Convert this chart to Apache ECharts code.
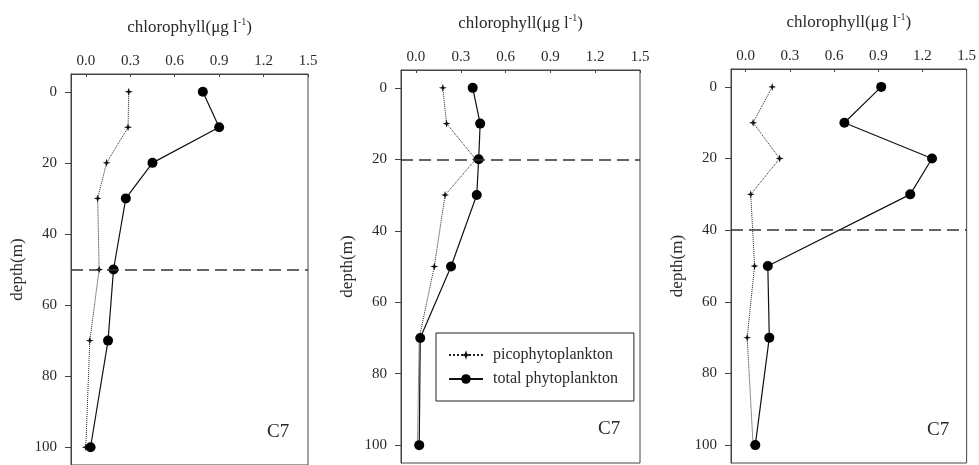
<html>
<head>
    <script src="https://cdn.jsdelivr.net/npm/echarts@6/dist/echarts.min.js"></script>
</head>
<body style="margin:0;background:#fff;">
    <div id="main" style="width: 979px;height:465px;"></div>
    <script>
        // depth profiles at station C7, three sampling occasions
        var depth = [0, 10, 20, 30, 50, 70, 100];
        var pico1 = [0.29, 0.285, 0.14, 0.08, 0.09, 0.027, 0.0];
        var total1 = [0.79, 0.9, 0.45, 0.27, 0.187, 0.15, 0.032];
        var pico2 = [0.18, 0.205, 0.40, 0.195, 0.123, 0.022, 0.01];
        var total2 = [0.38, 0.43, 0.42, 0.407, 0.235, 0.029, 0.022];
        var pico3 = [0.18, 0.05, 0.23, 0.034, 0.06, 0.01, 0.05];
        var total3 = [0.92, 0.67, 1.265, 1.117, 0.15, 0.16, 0.065];
        var mixedDepth = [50, 20, 40];
        var xTicks = [0, 0.3, 0.6, 0.9, 1.2, 1.5];
        var yTicks = [0, 20, 40, 60, 80, 100];
        var stationName = 'C7';

        var serif = '"Liberation Serif", "DejaVu Serif", serif';
        var ink = '#2a2a2a';

        var grids = [
            { left: 71, top: 74, width: 237, height: 393 },
            { left: 401, top: 70, width: 239, height: 393 },
            { left: 731, top: 69, width: 238, height: 394 }
        ];
        var tags = [
            { left: 267, top: 423 },
            { left: 598, top: 420 },
            { left: 927, top: 421 }
        ];

        function pairs(xs) {
            var out = [];
            for (var i = 0; i < xs.length; i++) out.push([xs[i], depth[i]]);
            return out;
        }

        var picoSymbol = 'path://M0,-5 L1.2,-1.2 L5,0 L1.2,1.2 L0,5 L-1.2,1.2 L-5,0 L-1.2,-1.2 Z';

        var xAxes = [], yAxes = [], series = [], titles = [];
        var picos = [pico1, pico2, pico3];
        var totals = [total1, total2, total3];

        for (var k = 0; k < 3; k++) {
            grids[k].show = true;
            grids[k].borderColor = '#444';
            grids[k].borderWidth = 1;

            xAxes.push({
                gridIndex: k,
                type: 'value',
                position: 'top',
                min: -0.1,
                max: 1.5,
                name: '{a|chlorophyll(μg l}{s|-1}{a|)}',
                nameLocation: 'middle',
                nameGap: 38,
                nameTextStyle: {
                    rich: {
                        a: { fontFamily: serif, fontSize: 17, lineHeight: 17, color: ink, verticalAlign: 'bottom' },
                        s: { fontFamily: serif, fontSize: 10, lineHeight: 10, color: ink, verticalAlign: 'bottom', padding: [0, 0, 9, 0] }
                    }
                },
                axisLine: { show: true, onZero: false, lineStyle: { color: '#444', width: 1 } },
                axisTick: { show: true, inside: true, length: 3, customValues: xTicks, lineStyle: { color: '#444' } },
                axisLabel: {
                    customValues: xTicks,
                    margin: 5,
                    fontFamily: serif,
                    fontSize: 15,
                    color: ink,
                    formatter: function (v) { return v.toFixed(1); }
                },
                splitLine: { show: false }
            });

            yAxes.push({
                gridIndex: k,
                type: 'value',
                inverse: true,
                min: -5,
                max: 105,
                name: 'depth(m)',
                nameLocation: 'middle',
                nameRotate: 90,
                nameGap: 45,
                nameTextStyle: { fontFamily: serif, fontSize: 17, color: ink },
                axisLine: { show: true, onZero: false, lineStyle: { color: '#444', width: 1 } },
                axisTick: { show: true, length: 6, customValues: yTicks, lineStyle: { color: '#444' } },
                axisLabel: {
                    customValues: yTicks,
                    margin: 14,
                    fontFamily: serif,
                    fontSize: 15,
                    color: ink
                },
                splitLine: { show: false }
            });

            series.push({
                name: 'picophytoplankton',
                type: 'line',
                xAxisIndex: k,
                yAxisIndex: k,
                data: pairs(picos[k]),
                symbol: picoSymbol,
                symbolSize: 8,
                itemStyle: { color: '#111' },
                lineStyle: { color: '#222', width: 1, type: 'dotted' },
                animation: false
            });

            series.push({
                name: 'total phytoplankton',
                type: 'line',
                xAxisIndex: k,
                yAxisIndex: k,
                data: pairs(totals[k]),
                symbol: 'circle',
                symbolSize: 10,
                itemStyle: { color: '#000' },
                lineStyle: { color: '#111', width: 1.2 },
                z: 3,
                animation: false,
                markLine: {
                    silent: true,
                    symbol: 'none',
                    label: { show: false },
                    lineStyle: { color: '#333', width: 1.5, type: [12, 6] },
                    data: [{ yAxis: mixedDepth[k] }]
                }
            });

            titles.push({
                text: stationName,
                left: tags[k].left,
                top: tags[k].top,
                padding: 0,
                textStyle: { fontFamily: serif, fontSize: 19, fontWeight: 'normal', color: ink }
            });
        }

        var myChart = echarts.init(document.getElementById('main'));
        var option = {
            backgroundColor: '#fff',
            animation: false,
            title: titles,
            grid: grids,
            xAxis: xAxes,
            yAxis: yAxes,
            legend: {
                orient: 'vertical',
                left: 436,
                top: 333,
                data: ['picophytoplankton', 'total phytoplankton'],
                borderColor: '#222',
                borderWidth: 1,
                padding: [14, 16, 14, 12],
                itemWidth: 34,
                itemHeight: 12,
                itemGap: 8,
                textStyle: { fontFamily: serif, fontSize: 16, color: ink, padding: [0, 0, 0, 5] }
            },
            series: series
        };
        myChart.setOption(option);
    </script>
</body>
</html>
